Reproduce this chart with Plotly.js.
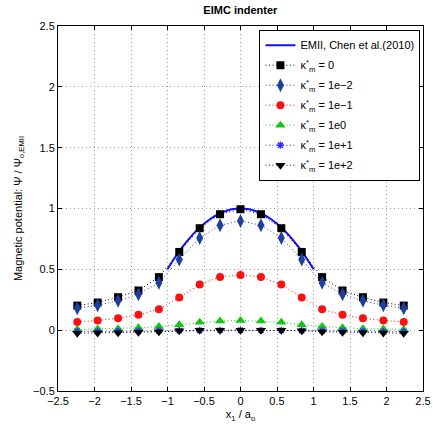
<!DOCTYPE html>
<html>
<head>
<meta charset="utf-8">
<script src="https://cdn.plot.ly/plotly-3.0.1.min.js"></script>
<style>html,body{margin:0;padding:0;background:#fff;}#plot{width:433px;height:427px;}</style>
</head>
<body>
<div id="plot"></div>
<script>
// Sample positions x1/a0
const xPts = [-2.236, -1.957, -1.677, -1.398, -1.118, -0.839, -0.559, -0.280, 0, 0.280, 0.559, 0.839, 1.118, 1.398, 1.677, 1.957, 2.236];
// kappa*_m = 0
const yK0 = [0.202, 0.227, 0.271, 0.326, 0.436, 0.643, 0.838, 0.953, 0.994, 0.953, 0.838, 0.643, 0.436, 0.326, 0.271, 0.227, 0.202];
// kappa*_m = 1e-2
const yK1em2 = [0.181, 0.205, 0.241, 0.296, 0.389, 0.580, 0.758, 0.863, 0.898, 0.863, 0.758, 0.580, 0.389, 0.296, 0.241, 0.205, 0.181];
// kappa*_m = 1e-1
const yK1em1 = [0.068, 0.079, 0.098, 0.126, 0.172, 0.268, 0.375, 0.438, 0.454, 0.438, 0.375, 0.268, 0.172, 0.126, 0.098, 0.079, 0.068];
// kappa*_m = 1e0
const yK1e0 = [0.006, 0.010, 0.012, 0.020, 0.030, 0.045, 0.065, 0.075, 0.080, 0.075, 0.065, 0.045, 0.030, 0.020, 0.012, 0.010, 0.006];
// kappa*_m = 1e+1
const yK1e1 = [-0.012, -0.011, -0.010, -0.008, -0.006, -0.004, -0.002, -0.001, 0.000, -0.001, -0.002, -0.004, -0.006, -0.008, -0.010, -0.011, -0.012];
// kappa*_m = 1e+2
const yK1e2 = [-0.025, -0.024, -0.022, -0.017, -0.013, -0.004, 0.000, 0.000, 0.000, 0.000, 0.000, -0.004, -0.013, -0.017, -0.022, -0.024, -0.025];
// EMII, Chen et al. (2010) reference curve
const xEMII = [-1.0, -0.9, -0.8, -0.7, -0.6, -0.5, -0.4, -0.3, -0.2, -0.1, 0, 0.1, 0.2, 0.3, 0.4, 0.5, 0.6, 0.7, 0.8, 0.9, 1.0];
const yEMII = [0.500, 0.595, 0.680, 0.755, 0.820, 0.875, 0.920, 0.955, 0.980, 0.995, 1.000, 0.995, 0.980, 0.955, 0.920, 0.875, 0.820, 0.755, 0.680, 0.595, 0.500];

const legendLabels = ['EMII, Chen et al.(2010)',
  'κ<sup>*</sup><sub>m</sub> = 0', 'κ<sup>*</sup><sub>m</sub> = 1e−2', 'κ<sup>*</sup><sub>m</sub> = 1e−1',
  'κ<sup>*</sup><sub>m</sub> = 1e0', 'κ<sup>*</sup><sub>m</sub> = 1e+1', 'κ<sup>*</sup><sub>m</sub> = 1e+2'];

function series(y, name, color, symbol, size, extra) {
  const m = Object.assign({symbol: symbol, size: size, color: color, line: {width: 0}}, extra || {});
  return {x: xPts, y: y, name: name, legendgroup: name, type: 'scatter', mode: 'lines+markers',
    line: {color: color, width: 1, dash: '1px,2.5px'}, marker: m};
}

const traces = [
  {x: xEMII, y: yEMII, name: legendLabels[0], legendgroup: 'emii', type: 'scatter', mode: 'lines',
   line: {color: '#1010ff', width: 2, shape: 'spline'}},
  series(yK0, legendLabels[1], '#000000', 'square', 8),
  series(yK1em2, legendLabels[2], '#1f3f9a', 'diamond-tall', 10),
  series(yK1em1, legendLabels[3], '#ff1010', 'circle', 8),
  series(yK1e0, legendLabels[4], '#10c810', 'triangle-up', 9),
  series(yK1e1, legendLabels[5], '#3030ff', 'asterisk-open', 6, {line: {color: '#3030ff', width: 1.5}}),
  series(yK1e2, legendLabels[6], '#000000', 'triangle-down', 9)
];

const axisCommon = {
  showline: true, linecolor: '#000', linewidth: 1, mirror: 'ticks',
  ticks: 'inside', ticklen: 4, tickcolor: '#000',
  showgrid: true, gridcolor: '#a0a0a0', gridwidth: 1, griddash: '1px,3px',
  zeroline: false, tickfont: {family: 'Liberation Sans, Arial, sans-serif', size: 11, color: '#000'}
};

const layout = {
  width: 433, height: 427,
  margin: {l: 58, r: 10, t: 26, b: 36},
  paper_bgcolor: '#fff', plot_bgcolor: '#fff',
  font: {family: 'Liberation Sans, Arial, sans-serif', size: 11, color: '#000'},
  title: {text: '<b>EIMC indenter</b>', x: 0.555, xanchor: 'center', y: 0.985, yanchor: 'top',
          font: {size: 11, color: '#000'}},
  xaxis: Object.assign({}, axisCommon, {range: [-2.5, 2.5], tickmode: 'array',
    tickvals: [-2.5, -2, -1.5, -1, -0.5, 0, 0.5, 1, 1.5, 2, 2.5],
    title: {text: 'x<sub>1</sub> / a<sub>o</sub>', standoff: 4, font: {size: 11}}}),
  yaxis: Object.assign({}, axisCommon, {range: [-0.5, 2.5], tickmode: 'array',
    tickvals: [-0.5, 0, 0.5, 1, 1.5, 2, 2.5],
    title: {text: 'Magnetic potential: Ψ / Ψ<sub>o,EMII</sub>', standoff: 8, font: {size: 11}}}),
  legend: {x: 0.993, xanchor: 'right', y: 0.99, yanchor: 'top', bgcolor: '#fff',
    bordercolor: '#000', borderwidth: 1, font: {size: 11}, tracegroupgap: 1, itemwidth: 30},
  showlegend: true
};

Plotly.newPlot('plot', traces, layout, {staticPlot: true, displayModeBar: false});
</script>
</body>
</html>
